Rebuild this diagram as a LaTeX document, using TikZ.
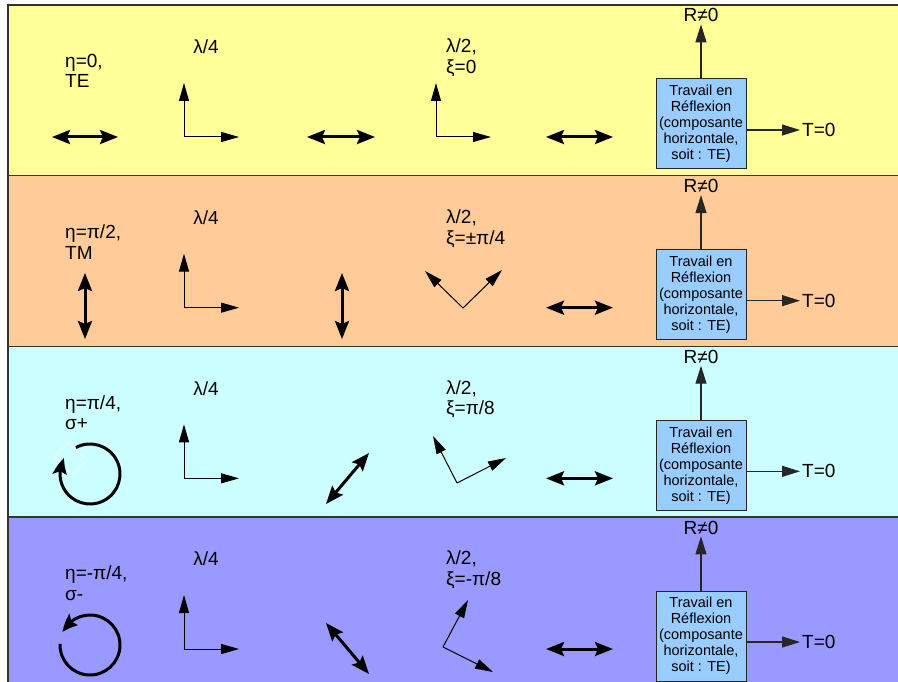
\documentclass[tikz,border=0pt]{standalone}
\usepackage{fontspec}
\setmainfont{Liberation Sans}
\usetikzlibrary{arrows.meta,bending}

\definecolor{bandTE}{HTML}{FFFF99}
\definecolor{bandTM}{HTML}{FFCC99}
\definecolor{bandSp}{HTML}{CCFFFF}
\definecolor{bandSm}{HTML}{9999FF}
\definecolor{boxblue}{HTML}{99CCFF}

\begin{document}
\begin{tikzpicture}[
  x=1pt, y=-1pt,
  band/.style={draw=black!80, line width=1.5pt},
  lbl/.style={font=\fontsize{19}{20.5}\selectfont, align=left, inner sep=0pt},
  pol/.style={line width=3pt,
    {Stealth[length=18pt,width=14pt,inset=3pt]}-{Stealth[length=18pt,width=14pt,inset=3pt]}},
  turn/.style={line width=3pt, -{Stealth[length=17pt,width=14pt,inset=3pt,bend]}},
  axis/.style={line width=1pt, -{Triangle[length=18pt,width=10pt]}},
  link/.style={line width=1.2pt, draw=black!85, -{Triangle[length=18pt,width=11pt]}},
  work/.style={draw=black!85, line width=1pt, fill=boxblue, minimum width=90pt,
    minimum height=90pt, inner sep=0pt, align=center,
    font=\fontsize{14.5}{16}\selectfont}
]
\useasboundingbox (0,0) rectangle (898,682);

% one band per polarisation state
\foreach \col/\etalbl/\xilbl [count=\i from 0] in {
    bandTE/{η=0,\\TE}/{ξ=0},
    bandTM/{η=π/2,\\TM}/{ξ=±π/4},
    bandSp/{η=π/4,\\σ+}/{ξ=π/8},
    bandSm/{η=-π/4,\\σ-}/{ξ=-π/8}}{
  \begin{scope}[yshift=-170.67*\i pt]
    \filldraw[band, fill=\col] (8,5) rectangle (905,175.67);
    \node[lbl, anchor=north west] (eta\i) at (65,54) {\etalbl};
    \node[lbl] (qw\i) at (206,47) {λ/4};
    \node[lbl, anchor=north west] (hw\i) at (446,39) {λ/2,\\\xilbl};
    % lambda/4 axes
    \coordinate (qo\i) at (184,137);
    \draw[axis] (qo\i) -- (184,83);
    \draw[axis] (qo\i) -- (239,137);
    % output polarisation
    \draw[pol] (546,137) -- (613,137);
    % reflection box
    \node[work] (box\i) at (701,124) {Travail en\\Réflexion\\(composante\\horizontale,\\soit : TE)};
    \node[lbl, anchor=base, inner sep=2pt] (r\i) at (701,22) {R≠0};
    \node[lbl, anchor=west, inner sep=2pt] (t\i) at (800,130) {T=0};
    \draw[link] (box\i) -- (r\i);
    \draw[link] (box\i.east |- t\i) -- (t\i);
  \end{scope}
}

% TE
\draw[pol] (52,137) -- (118,137);
\draw[pol] (307,137) -- (375,137);
\coordinate (ho0) at (436,137);
\draw[axis] (ho0) -- (436,83);
\draw[axis] (ho0) -- (491,137);

% TM
\draw[pol] (85,273) -- (85,339);
\draw[pol] (342,273) -- (342,339);
\coordinate (ho1) at (463,308);
\draw[axis] (ho1) -- (425,271);
\draw[axis] (ho1) -- (502,270);

% sigma+
\draw[white, line width=0.6pt] (68,443) -- (87,460) -- (72,475) -- (54,457) -- cycle;
\draw[turn] (90,474) ++(-118:30) arc[start angle=-118, end angle=212, radius=30];
\draw[pol] (326,504) -- (369,453);
\coordinate (ho2) at (457,483);
\draw[axis] (ho2) -- (433,436);
\draw[axis] (ho2) -- (506,458);

% sigma-
\draw[turn] (90,645) ++(182:30) arc[start angle=182, end angle=-155, radius=30];
\draw[pol] (326,623) -- (369,674);
\coordinate (ho3) at (443,647);
\draw[axis] (ho3) -- (468,600);
\draw[axis] (ho3) -- (493,672);
\end{tikzpicture}
\end{document}
